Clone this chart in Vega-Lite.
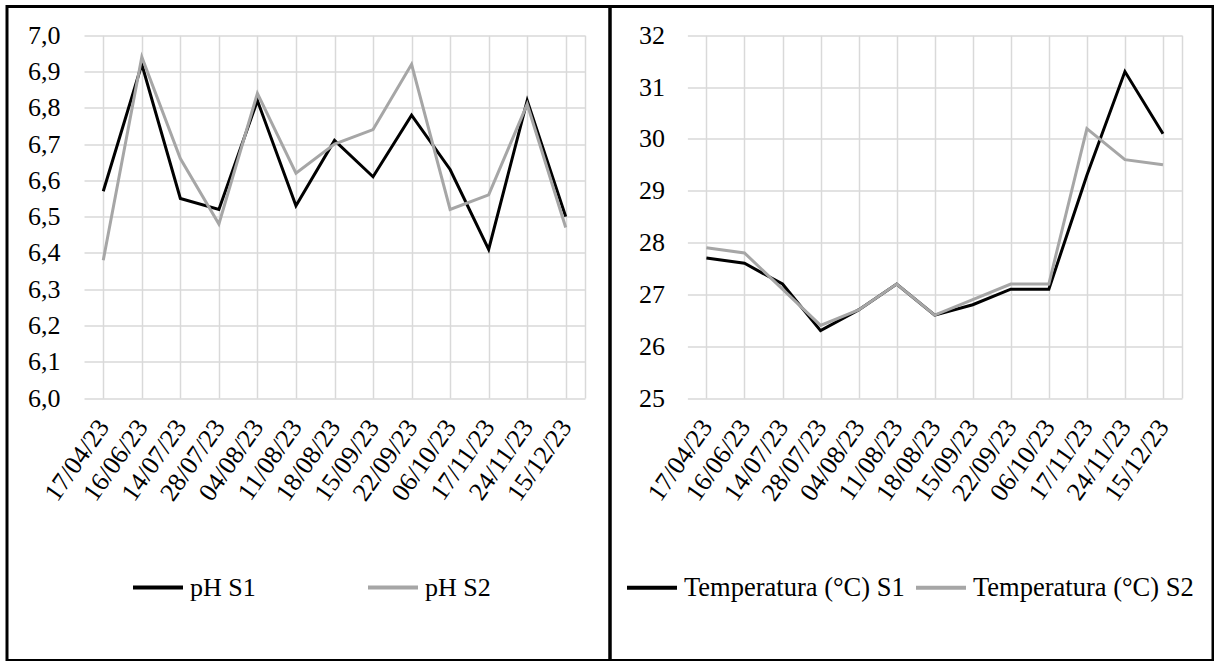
{
  "$schema": "https://vega.github.io/schema/vega-lite/v6.json",
  "background": "white",
  "padding": {"left": 5, "top": 4.5, "right": 0, "bottom": 0},
  "autosize": {"type": "pad"},
  "datasets": {
    "ph": [
      {"date": "17/04/23", "series": "pH S1", "value": 6.57},
      {"date": "16/06/23", "series": "pH S1", "value": 6.92},
      {"date": "14/07/23", "series": "pH S1", "value": 6.55},
      {"date": "28/07/23", "series": "pH S1", "value": 6.52},
      {"date": "04/08/23", "series": "pH S1", "value": 6.82},
      {"date": "11/08/23", "series": "pH S1", "value": 6.53},
      {"date": "18/08/23", "series": "pH S1", "value": 6.71},
      {"date": "15/09/23", "series": "pH S1", "value": 6.61},
      {"date": "22/09/23", "series": "pH S1", "value": 6.78},
      {"date": "06/10/23", "series": "pH S1", "value": 6.63},
      {"date": "17/11/23", "series": "pH S1", "value": 6.41},
      {"date": "24/11/23", "series": "pH S1", "value": 6.82},
      {"date": "15/12/23", "series": "pH S1", "value": 6.50},
      {"date": "17/04/23", "series": "pH S2", "value": 6.38},
      {"date": "16/06/23", "series": "pH S2", "value": 6.94},
      {"date": "14/07/23", "series": "pH S2", "value": 6.66},
      {"date": "28/07/23", "series": "pH S2", "value": 6.48},
      {"date": "04/08/23", "series": "pH S2", "value": 6.84},
      {"date": "11/08/23", "series": "pH S2", "value": 6.62},
      {"date": "18/08/23", "series": "pH S2", "value": 6.70},
      {"date": "15/09/23", "series": "pH S2", "value": 6.74},
      {"date": "22/09/23", "series": "pH S2", "value": 6.92},
      {"date": "06/10/23", "series": "pH S2", "value": 6.52},
      {"date": "17/11/23", "series": "pH S2", "value": 6.56},
      {"date": "24/11/23", "series": "pH S2", "value": 6.81},
      {"date": "15/12/23", "series": "pH S2", "value": 6.47}
    ],
    "temp": [
      {"date": "17/04/23", "series": "Temperatura (°C) S1", "value": 27.7},
      {"date": "16/06/23", "series": "Temperatura (°C) S1", "value": 27.6},
      {"date": "14/07/23", "series": "Temperatura (°C) S1", "value": 27.2},
      {"date": "28/07/23", "series": "Temperatura (°C) S1", "value": 26.3},
      {"date": "04/08/23", "series": "Temperatura (°C) S1", "value": 26.7},
      {"date": "11/08/23", "series": "Temperatura (°C) S1", "value": 27.2},
      {"date": "18/08/23", "series": "Temperatura (°C) S1", "value": 26.6},
      {"date": "15/09/23", "series": "Temperatura (°C) S1", "value": 26.8},
      {"date": "22/09/23", "series": "Temperatura (°C) S1", "value": 27.1},
      {"date": "06/10/23", "series": "Temperatura (°C) S1", "value": 27.1},
      {"date": "17/11/23", "series": "Temperatura (°C) S1", "value": 29.3},
      {"date": "24/11/23", "series": "Temperatura (°C) S1", "value": 31.3},
      {"date": "15/12/23", "series": "Temperatura (°C) S1", "value": 30.1},
      {"date": "17/04/23", "series": "Temperatura (°C) S2", "value": 27.9},
      {"date": "16/06/23", "series": "Temperatura (°C) S2", "value": 27.8},
      {"date": "14/07/23", "series": "Temperatura (°C) S2", "value": 27.1},
      {"date": "28/07/23", "series": "Temperatura (°C) S2", "value": 26.4},
      {"date": "04/08/23", "series": "Temperatura (°C) S2", "value": 26.7},
      {"date": "11/08/23", "series": "Temperatura (°C) S2", "value": 27.2},
      {"date": "18/08/23", "series": "Temperatura (°C) S2", "value": 26.6},
      {"date": "15/09/23", "series": "Temperatura (°C) S2", "value": 26.9},
      {"date": "22/09/23", "series": "Temperatura (°C) S2", "value": 27.2},
      {"date": "06/10/23", "series": "Temperatura (°C) S2", "value": 27.2},
      {"date": "17/11/23", "series": "Temperatura (°C) S2", "value": 30.2},
      {"date": "24/11/23", "series": "Temperatura (°C) S2", "value": 29.6},
      {"date": "15/12/23", "series": "Temperatura (°C) S2", "value": 29.5}
    ]
  },
  "spacing": 0,
  "bounds": "flush",
  "resolve": {"scale": {"color": "independent"}},
  "hconcat": [
    {
      "width": 603,
      "height": 654,
      "data": {"name": "ph"},
      "resolve": {"axis": {"x": "independent", "y": "independent"}},
      "layer": [
        {
          "mark": {"type": "line", "strokeWidth": 3},
          "encoding": {
            "x": {
              "field": "date", "type": "nominal", "sort": null,
              "scale": {"range": [77, 578], "paddingInner": 0, "paddingOuter": 0},
              "axis": {"orient": "bottom", "offset": -262.5, "labelAngle": -55, "labelPadding": 24, "grid": false, "labelFont": "Liberation Serif"}
            },
            "y": {
              "field": "value", "type": "quantitative",
              "scale": {"domain": [6, 7], "nice": false, "zero": false, "range": [391.5, 28.8]},
              "axis": {"orient": "left", "offset": -77, "values": [6, 6.1, 6.2, 6.3, 6.4, 6.5, 6.6, 6.7, 6.8, 6.9, 7], "format": ".1f", "labelPadding": 24, "grid": true, "labelFont": "Liberation Serif"}
            },
            "color": {
              "field": "series", "type": "nominal",
              "scale": {"domain": ["pH S1", "pH S2"], "range": ["#000000", "#a6a6a6"]},
              "legend": {"orient": "none", "legendX": 124, "legendY": 554, "columnPadding": 104}
            }
          }
        },
        {
          "mark": {"type": "point", "opacity": 0},
          "encoding": {
            "x": {
              "field": "date", "type": "nominal", "sort": null,
              "axis": {"orient": "top", "bandPosition": 0, "grid": true, "labels": false}
            },
            "y": {
              "field": "value", "type": "quantitative",
              "axis": {"orient": "right", "offset": -25, "grid": false, "labels": false, "domain": true}
            }
          }
        }
      ]
    },
    {
      "width": 603,
      "height": 654,
      "data": {"name": "temp"},
      "resolve": {"axis": {"x": "independent", "y": "independent"}},
      "layer": [
        {
          "mark": {"type": "line", "strokeWidth": 3},
          "encoding": {
            "x": {
              "field": "date", "type": "nominal", "sort": null,
              "scale": {"range": [77.4, 572], "paddingInner": 0, "paddingOuter": 0},
              "axis": {"orient": "bottom", "offset": -262.5, "labelAngle": -55, "labelPadding": 24, "grid": false, "labelFont": "Liberation Serif"}
            },
            "y": {
              "field": "value", "type": "quantitative",
              "scale": {"domain": [25, 32], "nice": false, "zero": false, "range": [391.5, 28.8]},
              "axis": {"orient": "left", "offset": -77.4, "values": [25, 26, 27, 28, 29, 30, 31, 32], "format": "d", "labelPadding": 23, "grid": true, "labelFont": "Liberation Serif"}
            },
            "color": {
              "field": "series", "type": "nominal",
              "scale": {"domain": ["Temperatura (°C) S1", "Temperatura (°C) S2"], "range": ["#000000", "#a6a6a6"]},
              "legend": {"orient": "none", "legendX": 15, "legendY": 554, "columnPadding": 3, "labelFontSize": 26.5}
            }
          }
        },
        {
          "mark": {"type": "point", "opacity": 0},
          "encoding": {
            "x": {
              "field": "date", "type": "nominal", "sort": null,
              "axis": {"orient": "top", "bandPosition": 0, "grid": true, "labels": false}
            },
            "y": {
              "field": "value", "type": "quantitative",
              "axis": {"orient": "right", "offset": -31, "grid": false, "labels": false, "domain": true}
            }
          }
        }
      ]
    }
  ],
  "config": {
    "font": "Liberation Serif",
    "locale": {"number": {"decimal": ",", "thousands": ".", "grouping": [3], "currency": ["", ""]}},
    "view": {"stroke": "#000000", "strokeWidth": 3},
    "style": {"guide-label": {"font": "Liberation Serif"}},
    "axis": {
      "title": null,
      "labelFont": "Liberation Serif",
      "labelFontSize": 26,
      "labelColor": "#000000",
      "ticks": false,
      "domain": false,
      "domainColor": "#d9d9d9",
      "domainWidth": 1.5,
      "gridColor": "#d9d9d9",
      "gridWidth": 1.5,
      "gridOpacity": 1,
      "labelOverlap": false,
      "labelBound": false,
      "labelFlush": false
    },
    "legend": {
      "title": null,
      "direction": "horizontal",
      "padding": 0,
      "symbolType": "stroke",
      "symbolSize": 2500,
      "symbolStrokeWidth": 4,
      "labelFont": "Liberation Serif",
      "labelFontSize": 26,
      "labelColor": "#000000",
      "labelOffset": 5,
      "labelLimit": 400
    }
  }
}
